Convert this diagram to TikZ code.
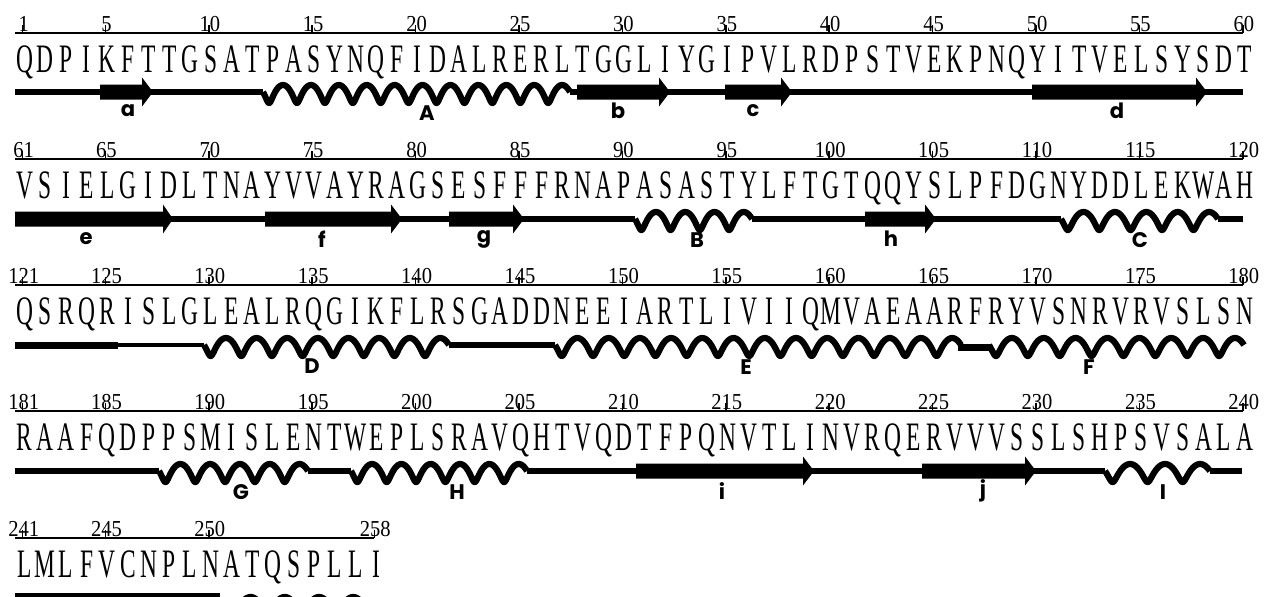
\documentclass[tikz,border=0pt]{standalone}
\usepackage{fontspec}
\usepackage{tikz}
\newfontfamily\seqfamily{Liberation Serif}[FakeStretch=0.58]
\newfontfamily\numfamily{Liberation Serif}[FakeStretch=0.9]
\newfontfamily\lblfamily{Poppins}
\newcommand{\seqfont}{\seqfamily\fontsize{11.5}{13}\selectfont}
\newcommand{\numfont}{\numfamily\fontsize{6.5}{8}\selectfont}
\newcommand{\lblfont}{\lblfamily\bfseries\fontsize{6}{7}\selectfont}
% residue i of a row sits at 22.7 + (i-1)*20.68
\newcommand{\seqrow}[3]{%
  \foreach \c [count=\i] in {#3}
    \node[residue] (res-#1-\i) at ({24.7+(\i-1)*20.68},#2) {\c};}
\newcommand{\ruler}[4]{%
  \draw[rulerline] (15,#2) -- ({22.7+(#3-#1)*20.68},#2);
  \foreach \n in {#4} {
    \draw[rulerline] ({22.7+(\n-#1)*20.68},#2) -- ({22.7+(\n-#1)*20.68},#2-8);
    \node[number] (num-\n) at ({23.7+(\n-#1)*20.68},#2-2) {\n};}}
\newcommand{\strand}[4]{%
  \fill (#1,#4-7.5) -- (#2,#4-7.5) -- (#2,#4-14.5) -- (#3,#4) -- (#2,#4+14.5)
    -- (#2,#4+7.5) -- (#1,#4+7.5) -- cycle;}
% wide arches on top, narrower turns below; starts on the line, going down
\newcommand{\helix}[4]{%
  \pgfmathsetmacro{\hper}{(#2-#1)/#3}
  \pgfmathsetmacro{\hend}{257.2+360*#3}
  \draw[helixline] plot[domain=257.2:\hend, samples=420, smooth]
    ({#1+\hper*((\x-257.2)/360)-0.07*\hper*(sin(\x)+0.975)}, {#4+2+9*cos(\x)});}
\begin{document}
\begin{tikzpicture}[x=0.1mm, y=-0.1mm,
  residue/.style={font=\seqfont, inner sep=0pt, anchor=base},
  number/.style={font=\numfont, inner sep=0pt, anchor=base},
  sslabel/.style={font=\lblfont, inner sep=0pt},
  rulerline/.style={line width=0.15mm},
  coil/.style={line width=0.6mm},
  helixline/.style={line width=0.62mm, line join=round}]
\clip (0,0) rectangle (1272,596);
\fill[white] (0,0) rectangle (1272,596);

% Rulers
\ruler{1}{33}{60}{1,5,10,15,20,25,30,35,40,45,50,55,60}
\ruler{61}{159}{120}{61,65,70,75,80,85,90,95,100,105,110,115,120}
\ruler{121}{285}{180}{121,125,130,135,140,145,150,155,160,165,170,175,180}
\ruler{181}{411}{240}{181,185,190,195,200,205,210,215,220,225,230,235,240}
\ruler{241}{538}{258}{241,245,250,258}

% Sequence
\seqrow{1}{72}{Q,D,P,I,K,F,T,T,G,S,A,T,P,A,S,Y,N,Q,F,I,D,A,L,R,E,R,L,T,G,G,L,I,Y,G,I,P,V,L,R,D,P,S,T,V,E,K,P,N,Q,Y,I,T,V,E,L,S,Y,S,D,T}
\seqrow{2}{198}{V,S,I,E,L,G,I,D,L,T,N,A,Y,V,V,A,Y,R,A,G,S,E,S,F,F,F,R,N,A,P,A,S,A,S,T,Y,L,F,T,G,T,Q,Q,Y,S,L,P,F,D,G,N,Y,D,D,L,E,K,W,A,H}
\seqrow{3}{324}{Q,S,R,Q,R,I,S,L,G,L,E,A,L,R,Q,G,I,K,F,L,R,S,G,A,D,D,N,E,E,I,A,R,T,L,I,V,I,I,Q,M,V,A,E,A,A,R,F,R,Y,V,S,N,R,V,R,V,S,L,S,N}
\seqrow{4}{450}{R,A,A,F,Q,D,P,P,S,M,I,S,L,E,N,T,W,E,P,L,S,R,A,V,Q,H,T,V,Q,D,T,F,P,Q,N,V,T,L,I,N,V,R,Q,E,R,V,V,V,S,S,L,S,H,P,S,V,S,A,L,A}
\seqrow{5}{577}{L,M,L,F,V,C,N,P,L,N,A,T,Q,S,P,L,L,I}

% Row 1: coil, helix A, strands a-d
\draw[coil] (15,92) -- (263,92);
\helix{263}{570}{11}{92}
\draw[coil] (570,92) -- (1243,92);
\strand{100}{142}{153}{92}
\strand{577}{659}{670}{92}
\strand{725}{781}{792}{92}
\strand{1032}{1196}{1207}{92}
\node[sslabel] (lbl-a) at (128,111) {a};
\node[sslabel] (lbl-A) at (427,113) {A};
\node[sslabel] (lbl-b) at (618,111) {b};
\node[sslabel] (lbl-c) at (753,111) {c};
\node[sslabel] (lbl-d) at (1117,111) {d};

% Row 2: strands e-h, helices B and C
\draw[coil] (15,219) -- (635,219);
\helix{635}{752}{4}{219}
\draw[coil] (752,219) -- (1061,219);
\helix{1061}{1218}{5}{219}
\draw[coil] (1218,219) -- (1243,219);
\strand{15}{163}{173}{219}
\strand{265}{391}{402}{219}
\strand{449}{513}{524}{219}
\strand{865}{925}{936}{219}
\node[sslabel] (lbl-e) at (86,239) {e};
\node[sslabel] (lbl-f) at (322,239) {f};
\node[sslabel] (lbl-g) at (484,239) {g};
\node[sslabel] (lbl-B) at (697,240) {B};
\node[sslabel] (lbl-h) at (891,239) {h};
\node[sslabel] (lbl-C) at (1140,240) {C};

% Row 3: helices D, E, F
\draw[line width=0.7mm] (15,345) -- (118,345);
\draw[line width=0.45mm] (118,345) -- (204,345);
\helix{204}{449}{8}{345}
\draw[coil] (449,345) -- (555,345);
\helix{555}{961}{13}{345}
\draw[line width=0.7mm] (958,347) -- (992,347);
\helix{989}{1244}{8}{345}
\node[sslabel] (lbl-D) at (312,366) {D};
\node[sslabel] (lbl-E) at (746,367) {E};
\node[sslabel] (lbl-F) at (1089,367) {F};

% Row 4: helices G, H, I and strands i, j
\draw[coil] (15,471) -- (159,471);
\helix{159}{308}{5}{471}
\draw[coil] (308,471) -- (351,471);
\helix{351}{527}{6}{471}
\draw[coil] (527,471) -- (1105,471);
\helix{1105}{1210}{3}{471}
\draw[coil] (1210,471) -- (1242,471);
\strand{636}{803}{814}{471}
\strand{922}{1025}{1036}{471}
\node[sslabel] (lbl-G) at (241,492) {G};
\node[sslabel] (lbl-H) at (457,492) {H};
\node[sslabel] (lbl-i) at (722,491) {i};
\node[sslabel] (lbl-j) at (983,491) {j};
\node[sslabel] (lbl-I) at (1163,492) {I};

% Row 5: cut off at the bottom edge
\draw[line width=1mm] (15,598) -- (220,598);
\helix{226}{380}{4.5}{604}
\end{tikzpicture}
\end{document}
